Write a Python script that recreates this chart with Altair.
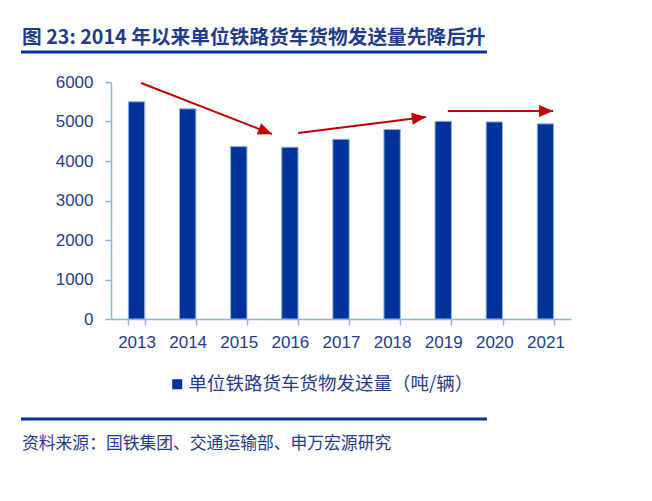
import math
import altair as alt
import pandas as pd

# ---- data ----
years = ["2013", "2014", "2015", "2016", "2017", "2018", "2019", "2020", "2021"]
values = [5500, 5320, 4365, 4350, 4550, 4800, 5005, 4990, 4940]
series_name = "单位铁路货车货物发送量（吨/辆）"
y_ticks = [0, 1000, 2000, 3000, 4000, 5000, 6000]

title_text = "图 23: 2014 年以来单位铁路货车货物发送量先降后升"
source_text = "资料来源：国铁集团、交通运输部、申万宏源研究"

# trend arrows (x in category-index units 0..9, y in data units)
arrow_x1 = [0.59, 3.66, 6.59]
arrow_y1 = [5975, 4709, 5266]
arrow_x2 = [3.15, 6.16, 8.65]
arrow_y2 = [4684, 5114, 5266]

# ---- layout / style ----
W, H = 460, 237
YMAX = 6000
N = len(years)
NAVY = "#003399"
TEXT = "#1F3C8C"
AXIS = "#8DB4E2"
RED = "#C00000"
LATIN = "Liberation Sans"
CJK = "Noto Sans CJK SC"

y_scale = alt.Scale(domain=[0, YMAX], nice=False)
y_axis = alt.Axis(
    title=None, values=y_ticks, format="d", labelOverlap=False,
    grid=False, labelFont=LATIN, labelFontSize=17, labelColor=TEXT,
    domainColor=AXIS, domainWidth=1.5, tickColor=AXIS, tickWidth=1.5,
    tickSize=6, labelPadding=12,
)

bars_df = pd.DataFrame({"year": years, "value": values, "series": [series_name] * N})

bars = alt.Chart(bars_df).mark_bar(
    stroke=AXIS, strokeWidth=1
).encode(
    x=alt.X(
        "year:N",
        sort=years,
        scale=alt.Scale(paddingInner=0.68, paddingOuter=0.34),
        axis=alt.Axis(
            title=None, labelAngle=0, labelFont=LATIN, labelFontSize=17,
            labelColor=TEXT, domainColor=AXIS, domainWidth=1.5, tickColor=AXIS,
            tickWidth=1.5, tickSize=6, tickBand="extent", labelPadding=9,
        ),
    ),
    y=alt.Y("value:Q", scale=y_scale, axis=y_axis),
    color=alt.Color(
        "series:N",
        scale=alt.Scale(range=[NAVY]),
        legend=alt.Legend(
            orient="none", legendX=57, legendY=293, title=None,
            symbolType="square", symbolSize=100, symbolStrokeWidth=0,
            labelFont=CJK, labelFontSize=18.5, labelColor=TEXT, labelOffset=2,
            labelLimit=0, padding=0,
        ),
    ),
)

# arrows
angles = []
for x1, y1, x2, y2 in zip(arrow_x1, arrow_y1, arrow_x2, arrow_y2):
    dxp = (x2 - x1) * W / N
    dyp = -(y2 - y1) * H / YMAX
    angles.append(math.degrees(math.atan2(dyp, dxp)) % 360)

arrow_df = pd.DataFrame({"x1": arrow_x1, "y1": arrow_y1, "x2": arrow_x2, "y2": arrow_y2, "ang": angles})
xq = alt.Scale(domain=[0, N], nice=False, zero=False)

arrow_lines = alt.Chart(arrow_df).mark_rule(color=RED, strokeWidth=2).encode(
    x=alt.X("x1:Q", scale=xq, axis=None),
    y=alt.Y("y1:Q", scale=y_scale, axis=y_axis),
    x2="x2:Q",
    y2="y2:Q",
)
arrow_heads = alt.Chart(arrow_df).mark_point(
    shape="M0,0 L-2,-0.85 L-2,0.85 Z", filled=True, color=RED, opacity=1, size=196
).encode(
    x=alt.X("x2:Q", scale=xq, axis=None),
    y=alt.Y("y2:Q", scale=y_scale, axis=y_axis),
    angle=alt.Angle("ang:Q", scale=None),
)

# title, rules and source
title = alt.Chart(pd.DataFrame({"t": [title_text]})).mark_text(
    align="left", baseline="alphabetic", font=CJK, fontSize=19.7, fontWeight="bold", color=TEXT
).encode(x=alt.value(-89), y=alt.value(-38), text="t:N")

top_rule = alt.Chart(pd.DataFrame({"k": [0]})).mark_rule(color=NAVY, strokeWidth=3).encode(
    x=alt.value(-90), x2=alt.value(376), y=alt.value(-30)
)
bottom_rule = alt.Chart(pd.DataFrame({"k": [0]})).mark_rule(color=NAVY, strokeWidth=3).encode(
    x=alt.value(-90), x2=alt.value(376), y=alt.value(337)
)
source = alt.Chart(pd.DataFrame({"t": [source_text]})).mark_text(
    align="left", baseline="alphabetic", font=CJK, fontSize=16.8, color=TEXT
).encode(x=alt.value(-89), y=alt.value(367), text="t:N")

chart = alt.layer(
    bars, arrow_lines, arrow_heads, title, top_rule, bottom_rule, source
).resolve_scale(x="independent").properties(
    width=W, height=H,
    autosize=alt.AutoSizeParams(type="none"),
    padding={"left": 103, "top": 74, "right": 73, "bottom": 170},
).configure_view(stroke=None)

chart.save("out.html", embed_options={"renderer": "svg", "actions": False})
